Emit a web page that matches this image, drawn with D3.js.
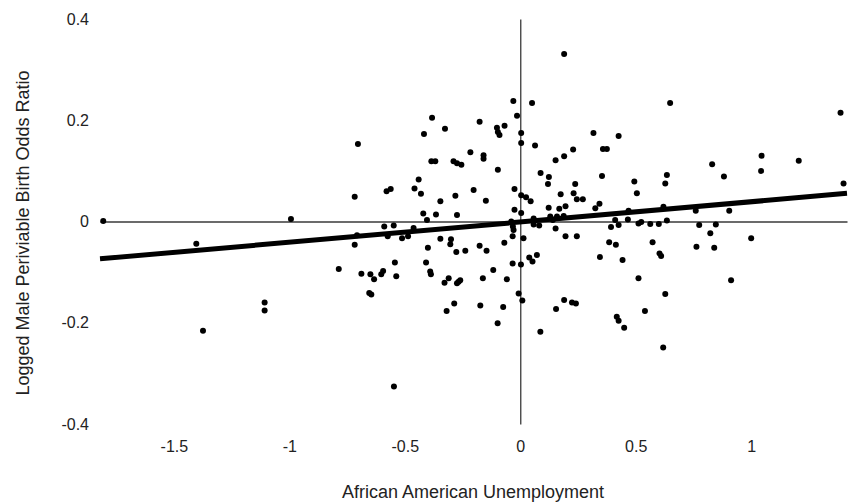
<!DOCTYPE html>
<html>
<head>
<meta charset="utf-8">
<script src="https://cdn.jsdelivr.net/npm/d3@7"></script>
<style>
  body { margin: 0; background: #fff; }
  svg { font-family: "Liberation Sans", Arial, sans-serif; }
</style>
</head>
<body>
<div id="chart"></div>
<script>
// x: African American unemployment, y: logged male periviable birth odds ratio
const xVals = [
  -1.806, -0.993, -1.403, -0.786, -1.107, -1.107, -1.374,
  0.190, -0.030, 0.051, -0.382, -0.014, -0.176, -0.326, -0.101, -0.068, -0.097,
  -0.090, -0.417, -0.703, 0.004, 0.004, 0.064, 0.229, 0.190, 0.153, -0.216,
  -0.159, -0.159, -0.385, -0.368, -0.289, -0.274, -0.255, -0.097, 0.088, 0.124,
  0.120, 0.238, -0.440, -0.458, -0.430, -0.579, -0.561, -0.717, -0.202, -0.025,
  0.004, 0.025, 0.045, 0.175, 0.231, 0.245, 0.271, -0.346, -0.281, -0.149,
  -0.420, -0.365, -0.274, -0.404, -0.025, 0.004, 0.123, 0.169, 0.196, -0.589,
  -0.548, -0.462,
  -0.574, -0.512, -0.486, -0.707, -0.717, -0.039, -0.032, -0.029, -0.033, -0.069,
  0.014, 0.058, 0.058, 0.082, 0.130, 0.141, 0.153, 0.159, 0.188, 0.196, 0.245,
  -0.346, -0.300, -0.303, -0.400, -0.277, -0.238, -0.176, -0.146, -0.688, -0.649,
  -0.633, -0.602, -0.594, -0.543, -0.537, -0.408, -0.390, -0.387, -0.328, -0.310,
  -0.274, -0.267, -0.260, -0.162, -0.117, -0.058, -0.033, 0.003, 0.039, 0.053,
  0.072, -0.654, -0.645, -0.286, -0.319, -0.173, -0.074, -0.007, 0.009, -0.098,
  0.087, 0.155, 0.190, 0.224, 0.241, -0.547,
  0.649, 1.387, 0.317, 0.426, 0.358, 0.375, 0.354, 0.494, 0.505, 0.628, 0.635,
  0.831, 0.882, 1.045, 1.043, 1.206, 1.400, 0.325, 0.343, 0.469, 0.620, 0.760,
  0.905,
  0.411, 0.466, 0.393, 0.426, 0.512, 0.524, 0.563, 0.600, 0.635, 0.775, 0.847,
  0.823, 1.000, 0.385, 0.414, 0.573, 0.345, 0.443, 0.603, 0.610, 0.763, 0.840,
  0.512, 0.913, 0.628, 0.540, 0.418, 0.426, 0.450, 0.619
];
const yVals = [
  0.001, 0.005, -0.044, -0.094, -0.160, -0.176, -0.216,
  0.331, 0.238, 0.234, 0.205, 0.209, 0.197, 0.183, 0.185, 0.189, 0.177,
  0.171, 0.173, 0.153, 0.175, 0.155, 0.150, 0.142, 0.129, 0.121, 0.137,
  0.131, 0.124, 0.119, 0.119, 0.119, 0.115, 0.112, 0.102, 0.096, 0.088,
  0.074, 0.074, 0.083, 0.065, 0.055, 0.060, 0.064, 0.049, 0.062, 0.064,
  0.052, 0.048, 0.040, 0.054, 0.056, 0.044, 0.044, 0.040, 0.051, 0.041,
  0.016, 0.014, 0.013, 0.003, 0.023, 0.017, 0.027, 0.025, 0.030, -0.010,
  -0.008, -0.013,
  -0.029, -0.033, -0.029, -0.027, -0.046, 0.000, -0.010, -0.017, -0.029, -0.042,
  -0.033, 0.006, -0.006, -0.008, 0.010, 0.003, -0.014, 0.010, 0.011, -0.029, -0.029,
  -0.034, -0.035, -0.045, -0.052, -0.060, -0.058, -0.048, -0.058, -0.103, -0.104,
  -0.114, -0.104, -0.098, -0.081, -0.108, -0.081, -0.099, -0.104, -0.121, -0.112,
  -0.122, -0.119, -0.116, -0.112, -0.096, -0.114, -0.083, -0.085, -0.071, -0.079,
  -0.066, -0.141, -0.144, -0.162, -0.177, -0.166, -0.169, -0.142, -0.156, -0.201,
  -0.218, -0.173, -0.155, -0.160, -0.162, -0.326,
  0.234, 0.215, 0.175, 0.169, 0.143, 0.143, 0.090, 0.079, 0.056, 0.075, 0.092,
  0.113, 0.089, 0.130, 0.100, 0.120, 0.075, 0.026, 0.035, 0.021, 0.029, 0.021,
  0.021,
  0.003, 0.004, -0.011, -0.007, -0.004, -0.001, -0.005, -0.005, 0.002, -0.007, -0.006,
  -0.023, -0.033, -0.041, -0.046, -0.041, -0.070, -0.076, -0.063, -0.068, -0.050, -0.052,
  -0.112, -0.116, -0.143, -0.177, -0.188, -0.196, -0.210, -0.249
];
const xTicks = [-1.5, -1, -0.5, 0, 0.5, 1];
const yTicks = [-0.4, -0.2, 0, 0.2, 0.4];
const trendSlope = 0.040;
const trendIntercept = -0.001;

const width = 850;
const height = 503;
const plotLeft = 100, plotRight = 847, plotTop = 19, plotBottom = 424;

const xScale = d3.scaleLinear().domain([-1.82, 1.415]).range([plotLeft, plotRight]);
const yScale = d3.scaleLinear().domain([-0.4, 0.4]).range([plotBottom, plotTop]);

// plain hyphen minus like the original
const fmt = d => String(d);

const svg = d3.select('#chart')
  .append('svg')
    .attr('width', width)
    .attr('height', height);

// axes crossing at zero
svg.append('g')
    .attr('transform', `translate(0, ${yScale(0)})`)
    .call(d3.axisBottom(xScale).tickValues([]).tickSizeOuter(0))
    .call(g => g.select('.domain').attr('stroke', '#3a3a3a').attr('stroke-width', 1.3));

svg.append('g')
    .attr('transform', `translate(${xScale(0)}, 0)`)
    .call(d3.axisLeft(yScale).tickValues([]).tickSizeOuter(0))
    .call(g => g.select('.domain').attr('stroke', '#3a3a3a').attr('stroke-width', 1.3));

// tick labels at the low side
svg.append('g')
    .attr('transform', `translate(0, ${plotBottom + 14})`)
    .call(d3.axisBottom(xScale).tickValues(xTicks).tickSize(0).tickFormat(fmt))
    .call(g => g.select('.domain').remove())
    .call(g => g.selectAll('text').attr('font-size', 16).attr('fill', '#222')
      .attr('font-family', '"Liberation Sans", Arial, sans-serif'));

svg.append('g')
    .attr('transform', `translate(${plotLeft - 8}, 0)`)
    .call(d3.axisLeft(yScale).tickValues(yTicks).tickSize(0).tickFormat(fmt))
    .call(g => g.select('.domain').remove())
    .call(g => g.selectAll('text').attr('font-size', 16).attr('fill', '#222')
      .attr('font-family', '"Liberation Sans", Arial, sans-serif'));

// points
svg.append('g')
  .selectAll('circle')
  .data(xVals.map((x, i) => [x, yVals[i]]))
  .enter()
    .append('circle')
      .attr('cx', d => xScale(d[0]))
      .attr('cy', d => yScale(d[1]))
      .attr('r', 3)
      .attr('fill', '#000');

// linear trend
const [x0, x1] = xScale.domain();
svg.append('line')
    .attr('x1', xScale(x0))
    .attr('y1', yScale(trendIntercept + trendSlope * x0))
    .attr('x2', xScale(x1))
    .attr('y2', yScale(trendIntercept + trendSlope * x1))
    .attr('stroke', '#000')
    .attr('stroke-width', 5);

// axis titles
svg.append('text')
    .attr('x', 473)
    .attr('y', 498)
    .attr('text-anchor', 'middle')
    .attr('font-size', 18)
    .attr('fill', '#222')
    .text('African American Unemployment');

svg.append('text')
    .attr('transform', 'translate(29, 233) rotate(-90)')
    .attr('text-anchor', 'middle')
    .attr('font-size', 18)
    .attr('fill', '#222')
    .text('Logged Male Periviable Birth Odds Ratio');
</script>
</body>
</html>
